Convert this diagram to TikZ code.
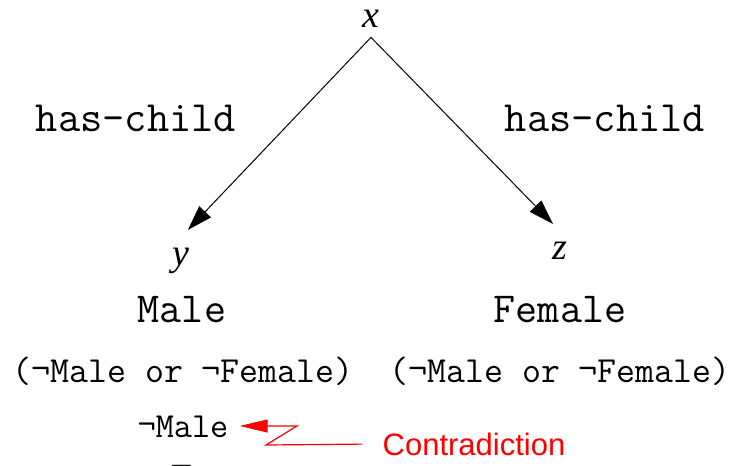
\documentclass[tikz,border=0pt]{standalone}
\usepackage{fontspec}
\setmainfont{Liberation Serif}
\setsansfont{Liberation Sans}
\usetikzlibrary{arrows.meta}

\begin{document}
\begin{tikzpicture}[x=0.5pt, y=-0.5pt,
      var/.style={font=\fontsize{19}{19}\selectfont\itshape, inner sep=5pt},
      role/.style={font=\fontsize{21.6}{21.6}\selectfont\ttfamily, anchor=base, inner sep=0pt},
      concept/.style={font=\fontsize{21.4}{21.4}\selectfont\ttfamily, anchor=base, inner sep=0pt},
      disj/.style={font=\fontsize{18.4}{18.4}\selectfont\ttfamily, anchor=base, inner sep=0pt},
      edge/.style={line width=0.5pt, -{Triangle[length=12.5pt,width=8pt]}, shorten >=5pt},
      clash/.style={red, line width=0.6pt, -{Triangle[length=14pt,width=6.5pt]}},
    ]
      \useasboundingbox (0,0) rectangle (730,466);
      \node[var, anchor=base] (x) at (371,27) {x};
      \node[var, anchor=base] (y) at (181,265) {y};
      \node[var, anchor=base] (z) at (560,259) {z};
      \draw[edge] (x.south) -- (y.north);
      \draw[edge] (x.south) -- (z.north);
      \node[role] (lrole) at (136,132) {has-child};
      \node[role] (rrole) at (605,132) {has-child};
      \node[concept] (male) at (182,322) {Male};
      \node[concept] (female) at (560,322) {Female};
      \node[disj] (ldisj) at (183,382) {(¬Male or ¬Female)};
      \node[disj] (rdisj) at (560,382) {(¬Male or ¬Female)};
      \node[font=\fontsize{17.6}{17.6}\selectfont\ttfamily, anchor=base, inner sep=0pt] (notmale) at (183,437) {¬Male};
      \node[font=\fontsize{15}{15}\selectfont, anchor=north, inner sep=0pt] (bottom) at (182,464) {$\top$};
      \node[font=\fontsize{15.5}{15.5}\sffamily, text=red, anchor=base, inner sep=0pt] (contra) at (474,455) {Contradiction};
      \coordinate (bendA) at (266,445);
      \coordinate (bendB) at (297,426);
      \draw[clash, shorten <=10pt, shorten >=5.5pt] (contra.west) -- (bendA) -- (bendB) -- (bendB -| notmale.east);
    \end{tikzpicture}
\end{document}
